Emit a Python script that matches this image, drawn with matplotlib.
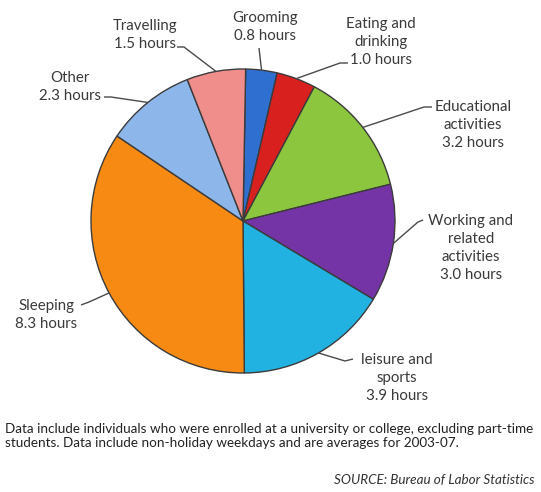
import numpy as np
import matplotlib
matplotlib.use("Agg")
import matplotlib.pyplot as plt

# Average weekday hours of full-time university students
categories = ["Grooming", "Eating and\ndrinking", "Educational\nactivities",
              "Working and\nrelated\nactivities", "leisure and\nsports",
              "Sleeping", "Other", "Travelling"]
hours = [0.8, 1.0, 3.2, 3.0, 3.9, 8.3, 2.3, 1.5]
colors = ["#2f6fd0", "#d8201f", "#8cc63e", "#7434a6", "#22b2e2",
          "#f68a12", "#8db6ea", "#f08e8c"]

W, H = 541, 492
fig = plt.figure(figsize=(W / 100, H / 100), dpi=100)
ax = fig.add_axes([0, 0, 1, 1])

cx, cy, r = 243, H - 221, 152
start = 89
wedges, _ = ax.pie(hours, colors=colors, startangle=start, counterclock=False,
                   center=(cx, cy), radius=r, frame=True,
                   wedgeprops=dict(edgecolor="#3b3b3b", linewidth=1.0))
ax.set_xlim(0, W)
ax.set_ylim(0, H)
ax.set_aspect("equal")
ax.axis("off")

# label text centres and leader elbows (pixel coordinates from top-left)
label_pos = [(265, 27), (381, 42), (473, 125), (471, 248),
             (397, 378), (46, 315), (70, 87), (145, 35)]
elbows = [[(259, 48)], [(340, 63), (348, 63)], [(424, 107), (432, 107)],
          [(418, 222), (423, 220)], [(345, 361), (353, 359)],
          [(89, 302), (81, 305)], [(111, 97), (104, 97)],
          [(184, 47), (177, 47)]]

tc = "#3a3a3a"
total = sum(hours)
cum = 0.0
for lab, h, pos, elb in zip(categories, hours, label_pos, elbows):
    mid = cum + h / 2
    cum += h
    ang = np.deg2rad(start - 360 * mid / total)
    ex, ey = cx + r * np.cos(ang), cy + r * np.sin(ang)
    xs = [ex] + [p[0] for p in elb]
    ys = [ey] + [H - p[1] for p in elb]
    ax.plot(xs, ys, color="#4a4a4a", lw=1.0, solid_capstyle="butt")
    ax.text(pos[0], H - pos[1], f"{lab}\n{h:.1f} hours", ha="center",
            va="center", fontsize=10.8, family="Lato", color=tc,
            linespacing=1.35)

ax.text(5, H - 436,
        "Data include individuals who were enrolled at a university or college, excluding part-time\n"
        "students. Data include non-holiday weekdays and are averages for 2003-07.",
        ha="left", va="center", fontsize=9.7, family="Lato", color="#222222",
        linespacing=1.25)
ax.text(535, H - 480, "SOURCE: Bureau of Labor Statistics", ha="right",
        va="center", fontsize=9.7, family="Lato", style="italic", color="#333333")

fig.savefig("out.png", dpi=100)
